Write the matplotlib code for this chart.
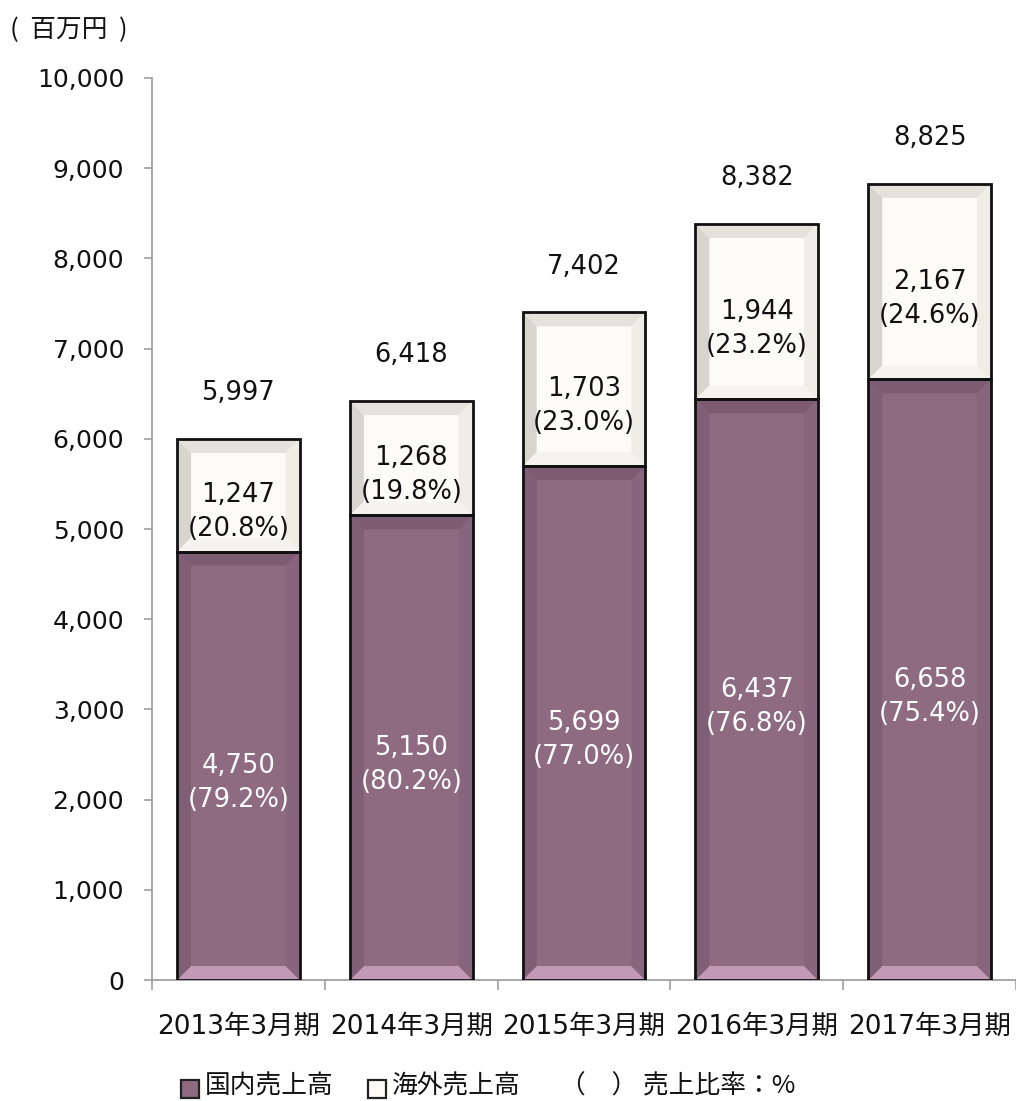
import numpy as np
import matplotlib
matplotlib.use('Agg')
import matplotlib.pyplot as plt
from matplotlib.patches import Polygon, Rectangle
from matplotlib.ticker import FuncFormatter, MultipleLocator, FixedLocator

# DejaVu for digits, Noto for the kanji
plt.rcParams['font.family'] = ['DejaVu Sans', 'Noto Sans CJK JP']

periods = ['2013年3月期', '2014年3月期', '2015年3月期', '2016年3月期', '2017年3月期']
domestic = [4750, 5150, 5699, 6437, 6658]
overseas = [1247, 1268, 1703, 1944, 2167]
domestic_pct = ['79.2', '80.2', '77.0', '76.8', '75.4']
overseas_pct = ['20.8', '19.8', '23.0', '23.2', '24.6']
totals = [5997, 6418, 7402, 8382, 8825]

# face / bevel colours (top, bottom, left, right)
purple = {'face': '#8f6b82', 'top': '#7d5b72', 'bottom': '#c39ab5',
          'left': '#805e76', 'right': '#87657c'}
cream = {'face': '#fcfbf5', 'top': '#e4e2da', 'bottom': '#f4f3ed',
         'left': '#d7d5cd', 'right': '#eeede6'}

fig = plt.figure(figsize=(10.16, 11.01), dpi=100)
ax = fig.add_axes([152 / 1016, 1 - 980 / 1101, 1 - 152 / 1016, (980 - 78) / 1101])

x = np.arange(len(periods))
width = 0.71
ax.set_xlim(-0.5, len(periods) - 0.5)
ax.set_ylim(0, 10000)

# bevel size in data units (about 14 px)
p0 = ax.transData.transform((0, 0))
p1 = ax.transData.transform((1, 1000))
bx = 14 / (p1[0] - p0[0])
by = 14 * 1000 / (p1[1] - p0[1])


def bevel_bar(xc, y0, y1, col):
    x0, x1 = xc - width / 2, xc + width / 2
    ax.bar(xc, y1 - y0, width, bottom=y0, color=col['face'], linewidth=0, zorder=2)
    polys = {
        'top': [(x0, y1), (x1, y1), (x1 - bx, y1 - by), (x0 + bx, y1 - by)],
        'bottom': [(x0, y0), (x1, y0), (x1 - bx, y0 + by), (x0 + bx, y0 + by)],
        'left': [(x0, y0), (x0 + bx, y0 + by), (x0 + bx, y1 - by), (x0, y1)],
        'right': [(x1, y0), (x1 - bx, y0 + by), (x1 - bx, y1 - by), (x1, y1)],
    }
    for k, pts in polys.items():
        ax.add_patch(Polygon(pts, closed=True, facecolor=col[k], edgecolor='none', zorder=3))
    ax.bar(xc, y1 - y0, width, bottom=y0, fill=False, edgecolor='#111111',
           linewidth=2.0, zorder=4)


fs = 18.5
for i in range(len(periods)):
    bevel_bar(x[i], 0, domestic[i], purple)
    bevel_bar(x[i], domestic[i], domestic[i] + overseas[i], cream)

    # domestic label (white)
    yd = domestic[i] / 2
    ax.annotate('{:,}'.format(domestic[i]), (x[i], yd), ha='center', va='center',
                color='white', fontsize=fs, zorder=5)
    ax.annotate('({}%)'.format(domestic_pct[i]), (x[i], yd), xytext=(0, -24.5),
                textcoords='offset points', ha='center', va='center',
                color='white', fontsize=fs, zorder=5)

    # overseas label (black)
    yo = domestic[i] + overseas[i] / 2
    ax.annotate('{:,}'.format(overseas[i]), (x[i], yo), ha='center', va='center',
                color='#111111', fontsize=fs, zorder=5)
    ax.annotate('({}%)'.format(overseas_pct[i]), (x[i], yo), xytext=(0, -24.5),
                textcoords='offset points', ha='center', va='center',
                color='#111111', fontsize=fs, zorder=5)

    # total on top
    ax.annotate('{:,}'.format(totals[i]), (x[i], domestic[i] + overseas[i]),
                xytext=(0, 33), textcoords='offset points', ha='center', va='center',
                color='#111111', fontsize=fs)

# axes styling
for s in ['top', 'right']:
    ax.spines[s].set_visible(False)
for s in ['left', 'bottom']:
    ax.spines[s].set_color('#a0a0a0')
    ax.spines[s].set_linewidth(1.3)

ax.yaxis.set_major_locator(MultipleLocator(1000))
ax.yaxis.set_major_formatter(FuncFormatter(lambda v, p: '{:,}'.format(int(v))))
ax.tick_params(axis='y', direction='out', length=6, width=1.2, color='#a0a0a0',
               pad=14, labelsize=18, labelcolor='#111111')

ax.set_xticks(x)
ax.set_xticklabels(periods)
ax.xaxis.set_minor_locator(FixedLocator(np.arange(-0.5, len(periods), 1.0)))
ax.tick_params(axis='x', which='major', length=0, pad=24, labelsize=19,
               labelcolor='#111111')
ax.tick_params(axis='x', which='minor', direction='out', length=7, width=1.2,
               color='#a0a0a0')

fig.text(10 / 1016, 1 - 30 / 1101, '(  百万円  )', fontsize=18.5, va='center', ha='left',
         color='#111111', family='Noto Sans CJK JP')

# legend drawn by hand: two swatches, labels and the ratio note
ly = 1 - 1086 / 1101
sw, sh = 18 / 1016, 18 / 1101
for lx, col, txt in [(181, purple, '国内売上高'), (368, cream, '海外売上高')]:
    fig.patches.append(Rectangle((lx / 1016, ly - sh / 2 - 3 / 1101), sw, sh,
                                 transform=fig.transFigure, facecolor=col['face'],
                                 edgecolor='#222222', linewidth=1.6))
    fig.text((lx + 24) / 1016, ly, txt, fontsize=18.5, va='center', ha='left',
             color='#111111', family='Noto Sans CJK JP')
fig.text(560 / 1016, ly, '（　） 売上比率：%', fontsize=18.5, va='center', ha='left',
         color='#111111', family='Noto Sans CJK JP')

fig.savefig('out.png', dpi=100)
